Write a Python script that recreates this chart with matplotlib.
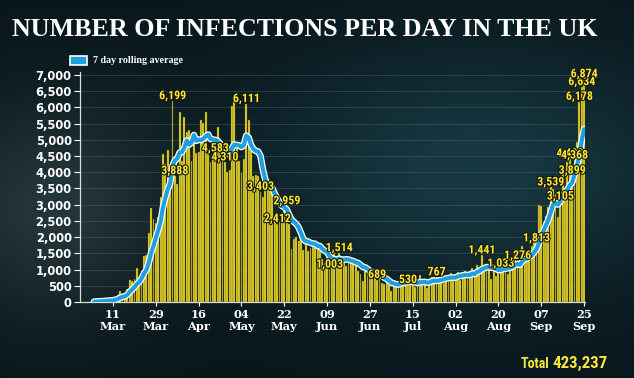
import numpy as np
import pandas as pd
import matplotlib
matplotlib.use("Agg")
import matplotlib.pyplot as plt
import matplotlib.patheffects as pe
from matplotlib import font_manager

# daily cases, 1 Mar - 25 Sep
mar = [13, 4, 11, 34, 29, 48, 45, 69, 43, 62, 77, 130, 208, 342, 251, 152, 407, 676,
       643, 714, 1035, 665, 967, 1427, 1452, 2129, 2885, 2546, 2433, 2619, 3250]
apr = [4550, 4244, 4690, 3735, 6199, 3888, 3634, 5850, 4344, 5706, 5234, 5288, 4342,
       5252, 4603, 4617, 5599, 5525, 5850, 4676, 4301, 4451, 4583, 5386, 4913, 4463,
       4310, 3996, 4076, 6032]
may = [6201, 4806, 4339, 3985, 4406, 6111, 5614, 4649, 3896, 3923, 3877, 3403, 3242,
       3446, 3560, 3450, 3534, 2684, 2412, 2472, 2615, 3287, 2959, 2409, 1625, 1936,
       2004, 1887, 2095, 1610, 1936]
jun = [1570, 1653, 1871, 1805, 1650, 1557, 1326, 1205, 1387, 1003, 1266, 1541, 1425,
       1514, 1056, 1279, 1115, 1218, 1346, 1295, 1221, 958, 874, 653, 1118, 1006, 890,
       901, 815, 689]
jul = [829, 576, 544, 624, 516, 352, 581, 630, 512, 820, 650, 630, 530, 598, 538, 463,
       687, 827, 650, 580, 445, 560, 769, 768, 767, 747, 685, 581, 763, 846, 880]
aug = [771, 744, 938, 670, 892, 950, 871, 758, 1062, 816, 1148, 1009, 1441, 1012, 1040,
       1040, 713, 1089, 812, 1182, 1033, 1288, 1041, 853, 1184, 1048, 1522, 1276, 1108,
       1715, 1406]
sep = [1295, 1508, 1735, 1940, 1813, 2988, 2948, 2460, 2659, 2919, 3539, 3497, 3330,
       2621, 3105, 3991, 3395, 4322, 4422, 3899, 4368, 4926, 6178, 6634, 6874]

cases = mar + apr + may + jun + jul + aug + sep
dates = pd.date_range("2020-03-01", periods=len(cases), freq="D")

# labelled bars
label_dates = ["2020-04-05", "2020-04-06", "2020-04-23", "2020-04-27", "2020-05-06",
               "2020-05-12", "2020-05-23", "2020-05-19", "2020-06-14", "2020-06-10",
               "2020-06-30", "2020-07-13", "2020-07-25", "2020-08-13", "2020-08-21",
               "2020-08-28", "2020-09-05", "2020-09-11", "2020-09-15", "2020-09-20",
               "2020-09-19", "2020-09-21", "2020-09-23", "2020-09-24", "2020-09-25"]

total_text = "423,237"

s = pd.Series(cases, index=dates)
rolling = s.rolling(7, min_periods=1).mean().loc["2020-03-03":]

# pick a narrow font if one is installed
names = {f.name for f in font_manager.fontManager.ttflist}
narrow = None
for n in ["Liberation Sans Narrow", "Roboto Condensed", "Open Sans Condensed"]:
    if n in names:
        narrow = n
        break
if narrow:
    lab_font, lab_size, tot_size, totw_size = narrow, 8.6, 12.2, 10
else:
    lab_font, lab_size, tot_size, totw_size = "DejaVu Sans", 6.8, 10, 8

fig = plt.figure(figsize=(6.34, 3.78), dpi=100)

# background
bg = fig.add_axes([0, 0, 1, 1])
yy, xx = np.mgrid[0:1:200j, 0:1:300j]
base = np.array([0.035, 0.09, 0.11])
teal = np.array([0.09, 0.22, 0.26])
grey = np.array([0.17, 0.24, 0.26])
w_teal = np.exp(-((xx - 0.75) ** 2 / 0.12 + (yy - 0.45) ** 2 / 0.10))
w_grey = np.exp(-((xx - 0.08) ** 2 / 0.03 + (yy - 0.55) ** 2 / 0.08))
img = base + w_teal[..., None] * (teal - base) + w_grey[..., None] * (grey - base) * 0.8
bg.imshow(np.clip(img, 0, 1), aspect="auto", extent=[0, 1, 0, 1], origin="upper")
bg.axis("off")

ax = fig.add_axes([0.1262, 0.2011, 0.7972, 0.6085])
ax.set_facecolor("none")
ax.bar(dates, cases, width=0.78, color="#f0dc2c", edgecolor="#5e5810",
       linewidth=0.3, zorder=2)
ax.plot(rolling.index, rolling.values, color="#1d9fe0", lw=3.0, zorder=3,
        solid_capstyle="round",
        path_effects=[pe.Stroke(linewidth=4.8, foreground="white"), pe.Normal()])

ax.set_xlim(pd.Timestamp("2020-02-26 03:00"), pd.Timestamp("2020-09-25 14:00"))
ax.set_ylim(0, 7090)
ax.set_yticks(np.arange(0, 7001, 500))
ax.set_yticklabels([f"{v:,}" for v in range(0, 7001, 500)], color="white",
                   fontsize=8.3, fontweight="bold", family="DejaVu Sans")
ax.yaxis.grid(True, color="#4a6470", lw=0.6, alpha=0.5, zorder=0)
ax.set_axisbelow(True)

ticks = pd.date_range("2020-03-11", "2020-09-25", freq="18D")
ax.set_xticks(ticks)
ax.set_xticklabels([t.strftime("%d\n%b") for t in ticks], color="white",
                   fontsize=8.2, fontweight="bold", family="DejaVu Serif",
                   linespacing=1.15)
ax.tick_params(axis="x", colors="white", length=3, width=0.8, pad=2)
ax.tick_params(axis="y", colors="white", length=4, width=0.8, pad=2)
for sp in ["top", "right"]:
    ax.spines[sp].set_visible(False)
for sp in ["left", "bottom"]:
    ax.spines[sp].set_color("#d8dde0")
    ax.spines[sp].set_linewidth(0.9)

for d in label_dates:
    v = s[pd.Timestamp(d)]
    ax.text(pd.Timestamp(d), v + 160, f"{v:,}", ha="center", va="center",
            color="#f5e63c", fontsize=lab_size, fontweight="bold", family=lab_font,
            zorder=5, path_effects=[pe.withStroke(linewidth=1.6, foreground="#1a1a08")])

# title
fig.text(0.019, 0.922, "NUMBER OF INFECTIONS PER DAY IN THE UK", color="white",
         fontsize=18.7, fontweight="bold", family="Liberation Serif",
         va="center", ha="left")

# legend
fig.patches.append(plt.Rectangle((0.111, 0.829), 0.026, 0.022, transform=fig.transFigure,
                                 facecolor="#1d9fe0", edgecolor="white", lw=1.2))
fig.text(0.147, 0.84, "7 day rolling average", color="white", fontsize=7.2,
         fontweight="bold", family="Liberation Serif", va="center", ha="left")

# total
fig.text(0.867, 0.026, "Total", color="#f5e63c", fontsize=totw_size, fontweight="bold",
         family=lab_font, va="baseline", ha="right")
fig.text(0.872, 0.026, total_text, color="#f5e63c", fontsize=tot_size, fontweight="bold",
         family=lab_font, va="baseline", ha="left")

fig.savefig("out.png", dpi=100)
